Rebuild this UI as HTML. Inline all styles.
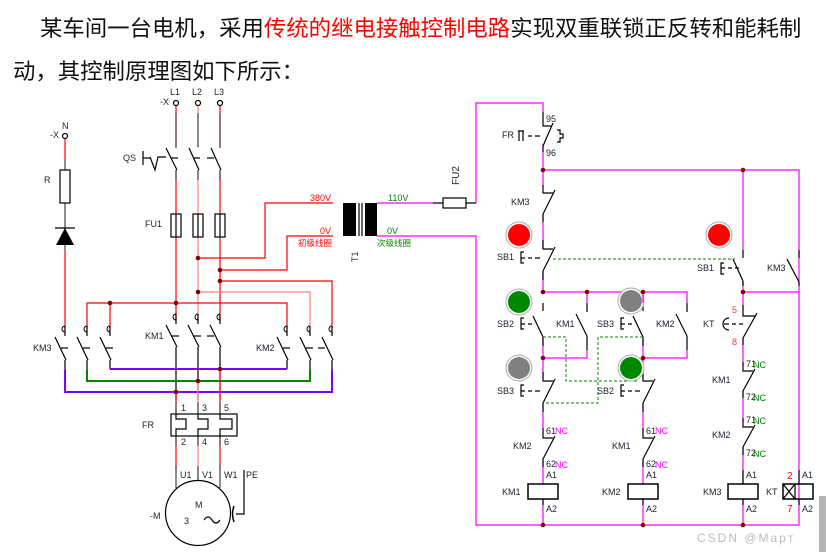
<!DOCTYPE html>
<html><head><meta charset="utf-8"><style>
body{margin:0;background:#fff;width:826px;height:552px;overflow:hidden;position:relative;font-family:"Liberation Sans","Noto Sans CJK SC",sans-serif}
.t{position:absolute;font-size:22.4px;color:#111;white-space:nowrap;letter-spacing:0}
svg{position:absolute;left:0;top:0}
svg text{font-family:"Liberation Sans","Noto Sans CJK SC",sans-serif;font-size:9px;fill:#223}
</style></head><body>
<div class="t" style="left:40px;top:11px">某车间一台电机，采用<span style="color:#f00">传统的继电接触控制电路</span>实现双重联锁正反转和能耗制</div>
<div class="t" style="left:13px;top:54px">动，其控制原理图如下所示：</div>
<svg width="826" height="552" viewBox="0 0 826 552" fill="none" stroke-width="1.2">
<g stroke="#f00">
<line x1="176" y1="106" x2="176" y2="148"/><line x1="176" y1="170" x2="176" y2="214"/><line x1="176" y1="237" x2="176" y2="320"/>
<line x1="220" y1="106" x2="220" y2="148"/><line x1="220" y1="170" x2="220" y2="214"/><line x1="220" y1="237" x2="220" y2="320"/>
<line x1="65" y1="139" x2="65" y2="160"/><line x1="65" y1="250" x2="65" y2="328"/>
</g>
<g stroke="#ff8080">
<line x1="198" y1="106" x2="198" y2="148"/><line x1="198" y1="170" x2="198" y2="214"/><line x1="198" y1="237" x2="198" y2="320"/>
</g>
<g stroke="#444">
<line x1="176" y1="113" x2="176" y2="147"/><line x1="198" y1="113" x2="198" y2="147"/><line x1="220" y1="113" x2="220" y2="147"/>
<line x1="176" y1="170" x2="176" y2="180"/><line x1="198" y1="170" x2="198" y2="180"/><line x1="220" y1="170" x2="220" y2="180"/>
<line x1="65" y1="160" x2="65" y2="170"/><line x1="65" y1="203" x2="65" y2="250"/>
</g>
<g stroke="#000" fill="#fff">
<circle cx="176" cy="103" r="2.5"/><circle cx="198" cy="103" r="2.5"/><circle cx="220" cy="103" r="2.5"/><circle cx="65" cy="136" r="2.5"/>
</g>
<text x="170" y="95">L1</text><text x="192" y="95">L2</text><text x="214" y="95">L3</text><text x="160" y="105">-X</text>
<text x="62" y="129">N</text><text x="50" y="138">-X</text>
<g stroke="#000">
<line x1="166" y1="148" x2="177" y2="170"/><line x1="189" y1="148" x2="199" y2="170"/><line x1="211" y1="148" x2="221" y2="170"/>
<line x1="171" y1="158" x2="178" y2="158"/><line x1="193" y1="158" x2="200" y2="158"/><line x1="207" y1="158" x2="214" y2="158"/>
<line x1="143" y1="151" x2="143" y2="165"/><line x1="143" y1="158" x2="150" y2="158"/>
<polyline points="150,157 155,170 158,157 166,157"/>
</g>
<text x="123" y="161">QS</text>
<g stroke="#000"><rect x="171" y="214" width="10" height="23"/><rect x="193" y="214" width="10" height="23"/><rect x="215" y="214" width="10" height="23"/>
<line x1="176" y1="214" x2="176" y2="237"/><line x1="198" y1="214" x2="198" y2="237"/><line x1="220" y1="214" x2="220" y2="237"/></g>
<text x="145" y="227">FU1</text>
<rect x="60" y="170" width="10" height="33" stroke="#000"/>
<text x="44" y="183">R</text>
<polygon points="56,245 74,245 65,228" fill="#000"/><line x1="55" y1="228" x2="75" y2="228" stroke="#000"/>
<g stroke="#f00">
<polyline points="198,258 265,258 265,203 333,203"/>
<polyline points="220,270 287,270 287,236 333,236"/>
<polyline points="220,281 332,281 332,328"/>
<polyline points="87,328 87,303 287,303 287,328"/>
<line x1="110" y1="303" x2="110" y2="328"/>
</g>
<polyline points="198,292 310,292 310,328" stroke="#ff8080"/>
<rect x="343" y="203" width="13" height="33" fill="#000"/><rect x="365" y="203" width="12" height="33" fill="#000"/>
<line x1="359" y1="203" x2="359" y2="236" stroke="#000"/><line x1="362" y1="203" x2="362" y2="236" stroke="#000"/>
<text x="310" y="201" style="fill:#f00">380V</text><text x="320" y="234" style="fill:#f00">0V</text>
<text x="298" y="246" style="fill:#f00;font-size:8.5px">初级线圈</text>
<text x="388" y="201" style="fill:#080">110V</text><text x="387" y="234" style="fill:#080">0V</text>
<text x="377" y="246" style="fill:#080;font-size:8.5px">次级线圈</text>
<text transform="translate(358,262) rotate(-90)">T1</text>
<line x1="377" y1="203" x2="433" y2="203" stroke="#f0f"/>
<line x1="433" y1="203" x2="476" y2="203" stroke="#000"/>
<rect x="443" y="198" width="23" height="10" stroke="#000" fill="#fff"/>
<text transform="translate(459,185) rotate(-90)" style="font-size:10px">FU2</text>
<polyline points="377,236 476,236 476,525 799,525 799,170 543,170" stroke="#f0f"/>
<polyline points="476,203 476,103 543,103 543,112" stroke="#f0f"/>
<g stroke="#000">
<line x1="65" y1="326" x2="65" y2="336"/><line x1="87" y1="326" x2="87" y2="336"/><line x1="110" y1="326" x2="110" y2="336"/>
<line x1="55" y1="337" x2="66" y2="360"/><line x1="77" y1="337" x2="88" y2="360"/><line x1="100" y1="337" x2="111" y2="360"/>
<line x1="61" y1="348" x2="68" y2="348"/><line x1="83" y1="348" x2="90" y2="348"/><line x1="106" y1="348" x2="113" y2="348"/>
<line x1="65" y1="360" x2="65" y2="392"/><line x1="87" y1="360" x2="87" y2="381"/><line x1="110" y1="360" x2="110" y2="369"/>
<line x1="176" y1="314" x2="176" y2="324"/><line x1="198" y1="314" x2="198" y2="324"/><line x1="220" y1="314" x2="220" y2="324"/>
<line x1="166" y1="325" x2="177" y2="347"/><line x1="188" y1="325" x2="199" y2="347"/><line x1="210" y1="325" x2="221" y2="347"/>
<line x1="172" y1="336" x2="179" y2="336"/><line x1="194" y1="336" x2="201" y2="336"/><line x1="207" y1="336" x2="214" y2="336"/>
<line x1="176" y1="347" x2="176" y2="400"/><line x1="198" y1="347" x2="198" y2="400"/><line x1="220" y1="347" x2="220" y2="400"/>
<line x1="287" y1="326" x2="287" y2="336"/><line x1="310" y1="326" x2="310" y2="336"/><line x1="332" y1="326" x2="332" y2="336"/>
<line x1="277" y1="337" x2="288" y2="360"/><line x1="300" y1="337" x2="311" y2="360"/><line x1="322" y1="337" x2="333" y2="360"/>
<line x1="283" y1="348" x2="290" y2="348"/><line x1="306" y1="348" x2="313" y2="348"/><line x1="318" y1="348" x2="325" y2="348"/>
<line x1="287" y1="360" x2="287" y2="369"/><line x1="310" y1="360" x2="310" y2="381"/><line x1="332" y1="360" x2="332" y2="392"/>
</g>
<g stroke="#000" stroke-width="1">
<path d="M65,326 a3,3 0 1 0 0,6"/><path d="M87,326 a3,3 0 1 0 0,6"/><path d="M110,326 a3,3 0 1 0 0,6"/>
<path d="M176,314 a3,3 0 1 0 0,6"/><path d="M198,314 a3,3 0 1 0 0,6"/><path d="M220,314 a3,3 0 1 0 0,6"/>
<path d="M287,326 a3,3 0 1 0 0,6"/><path d="M310,326 a3,3 0 1 0 0,6"/><path d="M332,326 a3,3 0 1 0 0,6"/>
</g>
<text x="33" y="351">KM3</text><text x="145" y="339">KM1</text><text x="256" y="351">KM2</text>
<g stroke-width="2">
<polyline points="65,370 65,392 332,392 332,370" stroke="#8000ff"/>
<polyline points="87,370 87,381 310,381 310,370" stroke="#080"/>
<line x1="110" y1="369" x2="287" y2="369" stroke="#8000ff"/>
</g>
<line x1="176" y1="392" x2="176" y2="470" stroke="#f00"/><line x1="198" y1="381" x2="198" y2="480" stroke="#ff8080"/><line x1="220" y1="369" x2="220" y2="470" stroke="#f00"/>
<g stroke="#444"><line x1="176" y1="402" x2="176" y2="446"/><line x1="198" y1="402" x2="198" y2="446"/><line x1="220" y1="402" x2="220" y2="446"/>
<line x1="176" y1="466" x2="176" y2="488"/><line x1="198" y1="466" x2="198" y2="480"/><line x1="220" y1="466" x2="220" y2="488"/></g>
<rect x="171" y="414" width="66" height="22" stroke="#000" fill="#fff"/>
<g stroke="#000"><path d="M176,414 v5 h10 v10 h-10 v7"/><path d="M198,414 v5 h10 v10 h-10 v7"/><path d="M220,414 v5 h12 v10 h-12 v7"/></g>
<text x="181" y="411">1</text><text x="202" y="411">3</text><text x="224" y="411">5</text>
<text x="181" y="445">2</text><text x="202" y="445">4</text><text x="224" y="445">6</text>
<text x="142" y="428">FR</text>
<text x="180" y="478">U1</text><text x="202" y="478">V1</text><text x="224" y="478">W1</text><text x="246" y="478">PE</text>
<circle cx="198" cy="513" r="32.5" stroke="#000"/>
<text x="195" y="508">M</text><text x="184" y="524">3</text><path d="M204,520 q4,-6 8,0 t8,0" stroke="#000"/>
<text x="150" y="519">-M</text>
<polyline points="244,470 244,514 236,514" stroke="#000"/><path d="M234,506 q-3,8 0,16" stroke="#000" stroke-width="1.5"/>
<g fill="#800000">
<circle cx="198" cy="258" r="2.3"/><circle cx="220" cy="270" r="2.3"/><circle cx="220" cy="281" r="2.3"/><circle cx="198" cy="292" r="2.3"/>
<circle cx="176" cy="303" r="2.3"/><circle cx="110" cy="303" r="2.3"/>
<circle cx="220" cy="369" r="2.3"/><circle cx="198" cy="381" r="2.3"/><circle cx="176" cy="392" r="2.3"/>
</g>

<g stroke="#f0f">
<line x1="543" y1="144" x2="543" y2="187"/>
<line x1="543" y1="214" x2="543" y2="248"/>
<polyline points="543,271 543,292 687,292 687,303"/>
<line x1="587" y1="292" x2="587" y2="303"/><line x1="643" y1="292" x2="643" y2="303"/>
<polyline points="543,337 543,358 587,358 587,350"/>
<polyline points="643,337 643,358 687,358 687,350"/>
<line x1="543" y1="358" x2="543" y2="378"/><line x1="643" y1="358" x2="643" y2="378"/>
<line x1="543" y1="403" x2="543" y2="430"/><line x1="643" y1="403" x2="643" y2="430"/>
<line x1="543" y1="459" x2="543" y2="484"/><line x1="643" y1="459" x2="643" y2="484"/>
<line x1="543" y1="499" x2="543" y2="525"/><line x1="643" y1="499" x2="643" y2="525"/><line x1="743" y1="499" x2="743" y2="525"/>
<line x1="743" y1="170" x2="743" y2="250"/>
<polyline points="743,281 743,292 799,292"/>
<line x1="743" y1="292" x2="743" y2="310"/>
<line x1="743" y1="337" x2="743" y2="366"/><line x1="743" y1="390" x2="743" y2="422"/><line x1="743" y1="447" x2="743" y2="484"/>
</g>
<g stroke="#000">
<polyline points="543,112 543,126 551,126"/><line x1="553" y1="123" x2="543" y2="146"/><line x1="543" y1="146" x2="543" y2="152"/>
<path d="M518,131 h6 M519,131 v10 M523,131 v10 M528,136 h4 M535,136 h5" />
<path d="M557,130 h3 v4 h3 v4 h-3 v4 h-3"/>
<polyline points="543,185 543,193 553,193"/><line x1="555" y1="190" x2="543" y2="214"/><line x1="543" y1="214" x2="543" y2="222"/>
<polyline points="543,240 543,249 553,249"/><line x1="555" y1="247" x2="543" y2="271"/><line x1="543" y1="271" x2="543" y2="280"/>
<path d="M524,252 h-3 v11 h3 M521,258 h4 M528,258 h4 M535,258 h5"/>
<line x1="543" y1="303" x2="543" y2="311"/><line x1="533" y1="316" x2="543" y2="337"/><line x1="543" y1="337" x2="543" y2="346"/>
<path d="M524,318 h-3 v11 h3 M521,324 h4 M528,324 h4"/>
<line x1="587" y1="303" x2="587" y2="312"/><line x1="576" y1="314" x2="587" y2="336"/><line x1="587" y1="336" x2="587" y2="350"/>
<line x1="643" y1="303" x2="643" y2="311"/><line x1="633" y1="316" x2="643" y2="337"/><line x1="643" y1="337" x2="643" y2="346"/>
<path d="M624,318 h-3 v11 h3 M621,324 h4 M628,324 h4"/>
<line x1="687" y1="303" x2="687" y2="312"/><line x1="676" y1="314" x2="687" y2="336"/><line x1="687" y1="336" x2="687" y2="350"/>
<polyline points="543,372 543,381 553,381"/><line x1="555" y1="379" x2="543" y2="403"/><line x1="543" y1="403" x2="543" y2="412"/>
<path d="M524,385 h-3 v11 h3 M521,391 h4 M528,391 h4 M535,391 h5"/>
<polyline points="643,372 643,381 653,381"/><line x1="655" y1="379" x2="643" y2="403"/><line x1="643" y1="403" x2="643" y2="412"/>
<path d="M624,385 h-3 v11 h3 M621,391 h4 M628,391 h4 M635,391 h5"/>
<polyline points="543,428 543,438 553,438"/><line x1="555" y1="436" x2="543" y2="459"/><line x1="543" y1="459" x2="543" y2="467"/>
<polyline points="643,428 643,438 653,438"/><line x1="655" y1="436" x2="643" y2="459"/><line x1="643" y1="459" x2="643" y2="467"/>
<rect x="528" y="484" width="30" height="15" stroke-width="1.5"/><rect x="628" y="484" width="30" height="15" stroke-width="1.5"/>
<rect x="728" y="484" width="30" height="15" stroke-width="1.5"/><rect x="783" y="484" width="30" height="15" stroke-width="1.5"/>
<line x1="795" y1="484" x2="795" y2="499"/><line x1="783" y1="484" x2="795" y2="499"/><line x1="795" y1="484" x2="783" y2="499"/>
<line x1="543" y1="499" x2="543" y2="505"/><line x1="643" y1="499" x2="643" y2="505"/><line x1="743" y1="499" x2="743" y2="505"/>
<line x1="743" y1="250" x2="743" y2="258"/><line x1="733" y1="259" x2="743" y2="281"/><line x1="743" y1="281" x2="743" y2="286"/>
<path d="M724,263 h-3 v11 h3 M721,268 h4 M728,268 h4 M735,268 h4"/>
<line x1="799" y1="250" x2="799" y2="258"/><line x1="787" y1="259" x2="799" y2="282"/><line x1="799" y1="282" x2="799" y2="286"/>
<polyline points="743,305 743,316 755,316"/><line x1="757" y1="313" x2="743" y2="338"/><line x1="743" y1="338" x2="743" y2="345"/>
<path d="M729,318 a6,6 0 0 0 0,12 M724,324 h5 M732,324 h4 M739,324 h4"/>
<polyline points="743,362 743,371 753,371"/><line x1="755" y1="369" x2="743" y2="391"/><line x1="743" y1="391" x2="743" y2="398"/>
<polyline points="743,418 743,427 753,427"/><line x1="755" y1="425" x2="743" y2="447"/><line x1="743" y1="447" x2="743" y2="455"/>
<line x1="743" y1="470" x2="743" y2="484"/><line x1="799" y1="470" x2="799" y2="484"/><line x1="799" y1="499" x2="799" y2="505"/>
</g>
<g stroke="#080" stroke-dasharray="3,2" stroke-width="1">
<line x1="553" y1="259" x2="735" y2="259"/>
<polyline points="543,337 566,337 566,381 637,381"/>
<polyline points="643,337 598,337 598,403 543,403"/>
</g>
<g stroke="#aaa" stroke-width="1">
<circle cx="519" cy="235" r="13" fill="#fff"/><circle cx="519" cy="235" r="11" fill="#f00" stroke="none"/>
<circle cx="719" cy="235" r="13" fill="#fff"/><circle cx="719" cy="235" r="11" fill="#f00" stroke="none"/>
<circle cx="519" cy="302" r="13" fill="#fff"/><circle cx="519" cy="302" r="11" fill="#080" stroke="none"/>
<circle cx="631" cy="301" r="13" fill="#fff"/><circle cx="631" cy="301" r="11" fill="#808080" stroke="none"/>
<circle cx="519" cy="368" r="13" fill="#fff"/><circle cx="519" cy="368" r="11" fill="#808080" stroke="none"/>
<circle cx="631" cy="368" r="13" fill="#fff"/><circle cx="631" cy="368" r="11" fill="#080" stroke="none"/>
</g>
<line x1="643" y1="292" x2="643" y2="303" stroke="#f0f"/>
<g fill="#800000">
<circle cx="543" cy="170" r="2.3"/><circle cx="743" cy="170" r="2.3"/>
<circle cx="543" cy="292" r="2.3"/><circle cx="587" cy="292" r="2.3"/><circle cx="643" cy="292" r="2.3"/><circle cx="743" cy="292" r="2.3"/>
<circle cx="543" cy="358" r="2.3"/><circle cx="643" cy="358" r="2.3"/>
<circle cx="543" cy="525" r="2.3"/><circle cx="643" cy="525" r="2.3"/><circle cx="743" cy="525" r="2.3"/>
</g>
<text x="546" y="122">95</text><text x="546" y="156">96</text><text x="502" y="138">FR</text>
<text x="511" y="205">KM3</text>
<text x="497" y="260">SB1</text><text x="697" y="271">SB1</text><text x="767" y="271">KM3</text>
<text x="497" y="327">SB2</text><text x="556" y="327">KM1</text><text x="597" y="327">SB3</text><text x="656" y="327">KM2</text>
<text x="703" y="327">KT</text>
<text x="497" y="394">SB3</text><text x="597" y="394">SB2</text>
<text x="513" y="449">KM2</text><text x="612" y="449">KM1</text>
<text x="712" y="383">KM1</text><text x="712" y="438">KM2</text>
<text x="546" y="434">61</text><text x="555" y="434" style="fill:#f0f">NC</text>
<text x="546" y="467">62</text><text x="555" y="468" style="fill:#f0f">NC</text>
<text x="646" y="434">61</text><text x="655" y="434" style="fill:#f0f">NC</text>
<text x="646" y="467">62</text><text x="655" y="468" style="fill:#f0f">NC</text>
<text x="746" y="367">71</text><text x="753" y="368" style="fill:#080">NC</text>
<text x="746" y="400">72</text><text x="753" y="401" style="fill:#080">NC</text>
<text x="746" y="423">71</text><text x="753" y="424" style="fill:#080">NC</text>
<text x="746" y="456">72</text><text x="753" y="457" style="fill:#080">NC</text>
<text x="732" y="313" style="fill:#f33">5</text><text x="732" y="345" style="fill:#f33">8</text>
<text x="546" y="478">A1</text><text x="646" y="478">A1</text><text x="746" y="478">A1</text><text x="802" y="478">A1</text>
<text x="546" y="512">A2</text><text x="646" y="512">A2</text><text x="746" y="512">A2</text><text x="802" y="512">A2</text>
<text x="502" y="495">KM1</text><text x="602" y="495">KM2</text><text x="703" y="495">KM3</text><text x="766" y="495">KT</text>
<text x="787" y="479" style="fill:#f00;font-size:10px">2</text><text x="787" y="512" style="fill:#f00;font-size:10px">7</text>
<text x="697" y="542" style="fill:#bbb;font-size:12px;letter-spacing:2px">CSDN @Mapт</text>
<rect x="819" y="496" width="7" height="56" fill="#b5b5b5"/>
</svg>
</body></html>
